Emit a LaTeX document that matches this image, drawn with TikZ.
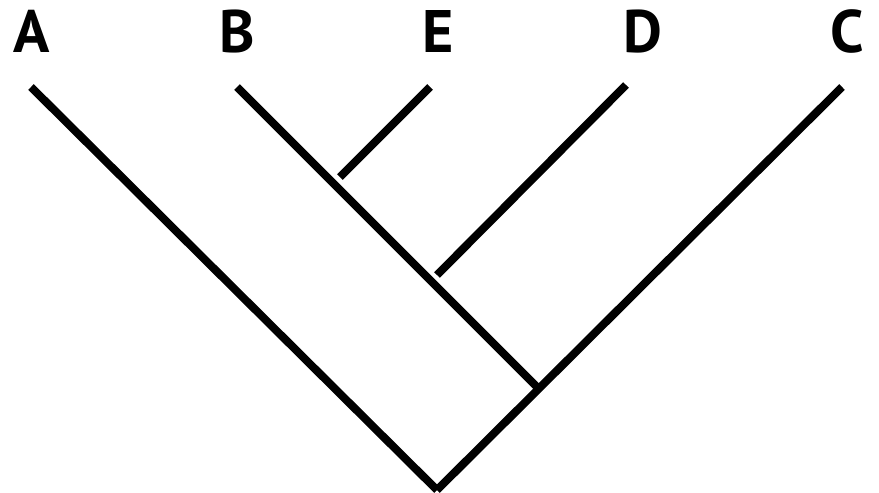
\documentclass[tikz,border=0pt]{standalone}
\usepackage{fontspec}
\setmainfont{PT Sans}
\begin{document}
\begin{tikzpicture}[x=1pt,y=-1pt,
  branch/.style={line width=8pt,line cap=butt,black},
  taxon/.style={font=\fontsize{60}{60}\selectfont\bfseries,anchor=base,inner sep=0pt}]
\useasboundingbox (0,0) rectangle (879,493);
\node[taxon] (A) at (32,52) {A};
\node[taxon] (B) at (237,52) {B};
\node[taxon] (E) at (438,52) {E};
\node[taxon] (D) at (643,52) {D};
\node[taxon] (C) at (847,52) {C};
\coordinate (a) at (31,87);
\coordinate (b) at (237,87);
\coordinate (e) at (430,87);
\coordinate (d) at (626,85);
\coordinate (c) at (842,87);
\coordinate (root) at (437,490);
\coordinate (bc) at (539,389);
\coordinate (eb) at (340,177);
\coordinate (db) at (437,275);
\draw[branch] (a) -- (root);
\draw[branch] (c) -- (root);
\draw[branch] (b) -- (bc);
\draw[branch] (e) -- (eb);
\draw[branch] (d) -- (db);
\end{tikzpicture}
\end{document}
